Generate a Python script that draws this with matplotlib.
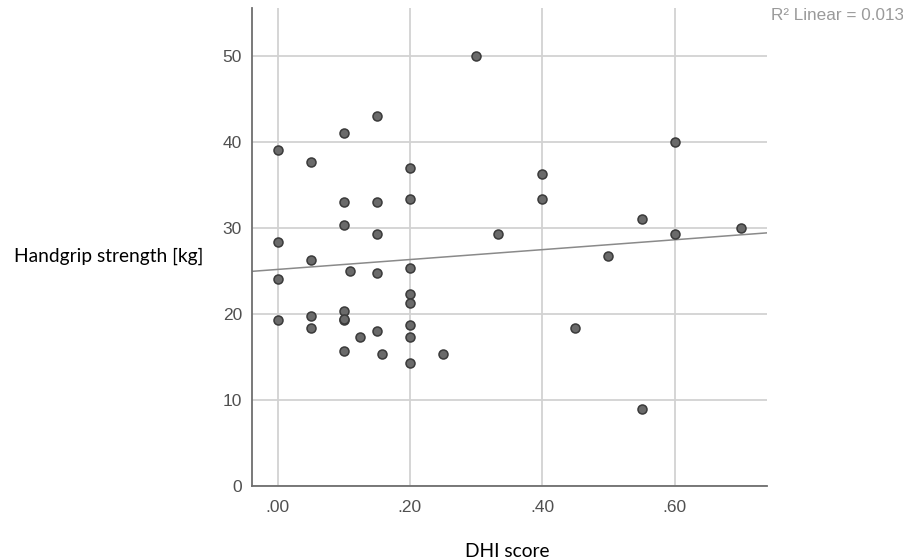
import numpy as np
import matplotlib
matplotlib.use("Agg")
import matplotlib.pyplot as plt

# Data
dhi = [0.30, 0.15, 0.10, 0.00, 0.05, 0.20, 0.10, 0.15, 0.20, 0.10, 0.15, 0.333, 0.00,
       0.05, 0.00, 0.11, 0.15, 0.20, 0.20, 0.20, 0.00, 0.05, 0.05, 0.10, 0.10, 0.10,
       0.125, 0.15, 0.10, 0.158, 0.20, 0.20, 0.20, 0.25,
       0.40, 0.40, 0.60, 0.55, 0.60, 0.70, 0.50, 0.45, 0.55]
grip = [50.0, 43.0, 41.0, 39.0, 37.7, 37.0, 33.0, 33.0, 33.3, 30.3, 29.3, 29.3, 28.3,
        26.3, 24.0, 25.0, 24.7, 25.3, 22.3, 21.3, 19.3, 19.7, 18.3, 20.3, 19.3, 19.4,
        17.3, 18.0, 15.7, 15.3, 18.7, 17.3, 14.3, 15.3,
        36.3, 33.3, 40.0, 31.0, 29.3, 30.0, 26.7, 18.3, 9.0]
x_ticks = [0.0, 0.2, 0.4, 0.6]
x_ticklabels = [".00", ".20", ".40", ".60"]
y_ticks = [0, 10, 20, 30, 40, 50]
r2_text = "R² Linear = 0.013"

W, H = 904, 560
fig = plt.figure(figsize=(W / 100, H / 100), dpi=100)
left, right, top, bottom = 251.7, 766.7, 8.3, 486.0
ax = fig.add_axes([left / W, 1 - bottom / H, (right - left) / W, (bottom - top) / H])

xmin, xmax = -0.039, 0.739
ax.set_xlim(xmin, xmax)
ax.set_ylim(0, 55.5)

ax.grid(True, color="#d2d2d2", linewidth=1.3, zorder=0)
ax.set_axisbelow(True)

ax.scatter(dhi, grip, s=42, facecolor="#6a6a6a", edgecolor="#3a3a3a", linewidth=1.1, zorder=3)

# Linear fit line
m, b = np.polyfit(dhi, grip, 1)
xs = np.array([xmin, xmax])
ax.plot(xs, m * xs + b, color="#8a8a8a", linewidth=1.1, zorder=2)

for s in ["top", "right"]:
    ax.spines[s].set_visible(False)
for s in ["left", "bottom"]:
    ax.spines[s].set_color("#6e6e6e")
    ax.spines[s].set_linewidth(1.3)

ax.set_xticks(x_ticks)
ax.set_xticklabels(x_ticklabels)
ax.set_yticks(y_ticks)
ax.tick_params(length=0, labelsize=12.5, labelcolor="#505050", pad=7)
for lab in ax.get_xticklabels() + ax.get_yticklabels():
    lab.set_family("Liberation Sans")
ax.tick_params(axis="x", pad=10)

fig.text(904 / W, 1 - 16 / H, r2_text, ha="right", va="center", fontsize=12.3,
         color="#9a9a9a", family="Liberation Sans")

fig.text(14 / W, 1 - 261.7 / H, "Handgrip strength [kg]", ha="left", va="baseline",
         fontsize=13.8, color="black", family="Lato")
fig.text(507.5 / W, 1 - 556.7 / H, "DHI score", ha="center", va="baseline",
         fontsize=13.8, color="black", family="Lato")

fig.savefig("out.png", dpi=100)
